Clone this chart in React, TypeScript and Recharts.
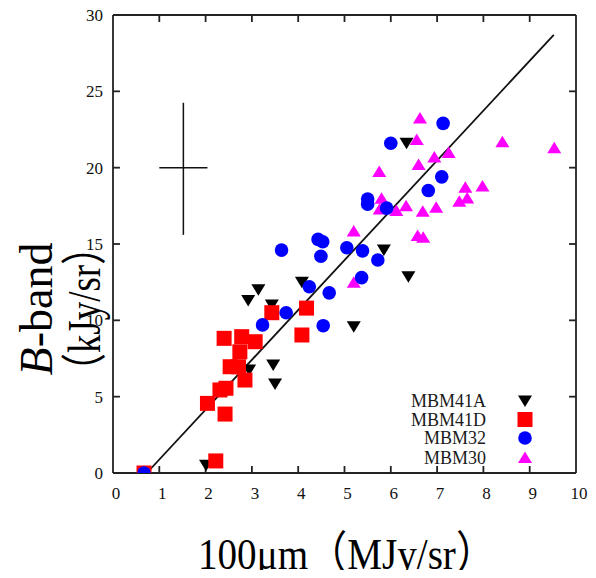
import React from 'react';
import { ScatterChart, Scatter, XAxis, YAxis, ReferenceLine } from 'recharts';

// ---- data (x: 100um MJy/sr, y: B-band kJy/sr) ----
const MBM41A: [number, number][] = [
  [2.01, 0.5], [2.92, 11.3], [3.14, 12.0], [2.94, 6.75], [3.43, 11.0], [3.46, 7.07],
  [3.5, 5.83], [4.08, 12.5], [5.2, 9.58], [5.85, 14.6], [6.38, 12.86], [6.34, 21.6],
];
const MBM41D: [number, number][] = [
  [0.67, 0], [2.22, 0.79], [2.04, 4.56], [2.42, 3.86], [2.31, 5.44], [2.44, 5.55],
  [2.4, 8.82], [2.78, 8.93], [3.07, 8.6], [2.74, 7.94], [2.53, 6.96], [2.71, 6.96],
  [2.85, 6.09], [3.43, 10.5], [4.18, 10.8], [4.08, 9.04],
];
const MBM32: [number, number][] = [
  [0.67, 0], [3.23, 9.7], [3.74, 10.5], [4.24, 12.2], [4.67, 11.8], [4.54, 9.65],
  [3.64, 14.6], [4.43, 15.3], [4.53, 15.15], [4.49, 14.2], [5.05, 14.75], [5.39, 14.55],
  [5.72, 13.95], [5.37, 12.8], [5.5, 17.95], [5.5, 17.6], [5.91, 17.35], [6.0, 21.6],
  [7.13, 22.9], [7.1, 19.4], [6.81, 18.5],
];
const MBM30: [number, number][] = [
  [0.67, 0], [5.2, 12.5], [5.2, 15.85], [6.63, 23.25], [6.56, 21.85], [8.41, 21.7],
  [9.53, 21.3], [7.25, 21.0], [6.94, 20.7], [6.6, 20.2], [5.75, 19.75], [7.61, 18.72],
  [7.98, 18.8], [7.48, 17.8], [7.65, 18.02], [5.8, 18.0], [5.76, 17.3], [6.12, 17.2],
  [6.33, 17.5], [6.69, 17.15], [6.98, 17.4], [6.58, 15.55], [6.7, 15.45],
];
const xTicks = [0, 1, 2, 3, 4, 5, 6, 7, 8, 9, 10];
const yTicks = [0, 5, 10, 15, 20, 25, 30];
const xDomain: [number, number] = [0, 10];
const yDomain: [number, number] = [0, 30];
const fitLine: [number, number][] = [[0.73, 0], [9.52, 28.7]];
const errCenter: [number, number] = [1.52, 20];
const errX = 0.52;
const errY: [number, number] = [15.6, 24.25];
const legendNames = ['MBM41A', 'MBM41D', 'MBM32', 'MBM30'];

const toPts = (a: [number, number][]) => a.map(([x, y]) => ({ x, y }));

const INK = '#111';
const FRAME = '#222';
const SERIF = 'Liberation Serif, DejaVu Serif, Noto Sans CJK JP, serif';

// chart layout
const W = 580;
const H = 562;
const M = { top: 7, right: 12, bottom: 57, left: 45 };
const Y_AXIS_W = 60;
const X_AXIS_H = 40;
// inward tick length expressed in data units (~7px)
const X_TICK_LEN = 0.15;
const Y_TICK_LEN = 0.46;

const TriDown = (p: any) => (
  <polygon points={`${p.cx - 7},${p.cy - 5.5} ${p.cx + 7},${p.cy - 5.5} ${p.cx},${p.cy + 6}`} fill="#000" />
);
const Sq = (p: any) => <rect x={p.cx - 7.5} y={p.cy - 7.5} width={15} height={15} fill="#ff0000" />;
const Circ = (p: any) => <circle cx={p.cx} cy={p.cy} r={6.8} fill="#0000ff" />;
const TriUp = (p: any) => (
  <polygon points={`${p.cx - 7},${p.cy + 5.5} ${p.cx + 7},${p.cy + 5.5} ${p.cx},${p.cy - 6}`} fill="#ff00ff" />
);

const XTick = (p: any) => (
  <text x={p.x + 3} y={p.y + 26} textAnchor="middle" fontSize={17} fontFamily={SERIF} fill={INK}>
    {p.payload.value}
  </text>
);
const YTick = (p: any) => (
  <text x={p.x - 10} y={p.y + 6} textAnchor="end" fontSize={17} fontFamily={SERIF} fill={INK}>
    {p.payload.value}
  </text>
);

const legendShapes = [TriDown, Sq, Circ, TriUp];
const legendRows = [393, 411.5, 430, 449.5];

const frameProps = { stroke: FRAME, strokeWidth: 1.8, ifOverflow: 'visible' as const };

export default function App() {
  const innerX = xTicks.filter((v) => v > xDomain[0] && v < xDomain[1]);
  const innerY = yTicks.filter((v) => v > yDomain[0] && v < yDomain[1]);
  return (
    <div style={{ position: 'relative', width: W, height: H }}>
      <ScatterChart width={W} height={H} margin={M}>
        <XAxis
          dataKey="x" type="number" domain={xDomain} ticks={xTicks} allowDataOverflow
          height={X_AXIS_H} tickSize={0} tickMargin={0} tick={XTick}
          axisLine={false} tickLine={false} interval={0}
        />
        <YAxis
          dataKey="y" type="number" domain={yDomain} ticks={yTicks} allowDataOverflow
          width={Y_AXIS_W} tickSize={0} tickMargin={0} tick={YTick}
          axisLine={false} tickLine={false} interval={0}
        />
        <Scatter name="MBM41A" data={toPts(MBM41A)} shape={TriDown} isAnimationActive={false} />
        <Scatter name="MBM30" data={toPts(MBM30)} shape={TriUp} isAnimationActive={false} />
        <Scatter name="MBM41D" data={toPts(MBM41D)} shape={Sq} isAnimationActive={false} />
        <Scatter name="MBM32" data={toPts(MBM32)} shape={Circ} isAnimationActive={false} />
        {/* frame */}
        <ReferenceLine segment={[{ x: xDomain[0], y: yDomain[0] }, { x: xDomain[1], y: yDomain[0] }]} {...frameProps} />
        <ReferenceLine segment={[{ x: xDomain[0], y: yDomain[1] }, { x: xDomain[1], y: yDomain[1] }]} {...frameProps} />
        <ReferenceLine segment={[{ x: xDomain[0], y: yDomain[0] }, { x: xDomain[0], y: yDomain[1] }]} {...frameProps} />
        <ReferenceLine segment={[{ x: xDomain[1], y: yDomain[0] }, { x: xDomain[1], y: yDomain[1] }]} {...frameProps} />
        {/* inward ticks on all four sides */}
        {innerX.map((v) => (
          <ReferenceLine key={`xb${v}`} segment={[{ x: v, y: yDomain[0] }, { x: v, y: yDomain[0] + Y_TICK_LEN }]} {...frameProps} />
        ))}
        {innerX.map((v) => (
          <ReferenceLine key={`xt${v}`} segment={[{ x: v, y: yDomain[1] }, { x: v, y: yDomain[1] - Y_TICK_LEN }]} {...frameProps} />
        ))}
        {innerY.map((v) => (
          <ReferenceLine key={`yl${v}`} segment={[{ x: xDomain[0], y: v }, { x: xDomain[0] + X_TICK_LEN, y: v }]} {...frameProps} />
        ))}
        {innerY.map((v) => (
          <ReferenceLine key={`yr${v}`} segment={[{ x: xDomain[1], y: v }, { x: xDomain[1] - X_TICK_LEN, y: v }]} {...frameProps} />
        ))}
        <ReferenceLine
          segment={[{ x: fitLine[0][0], y: fitLine[0][1] }, { x: fitLine[1][0], y: fitLine[1][1] }]}
          stroke="#111" strokeWidth={1.8} ifOverflow="visible"
        />
        <ReferenceLine
          segment={[{ x: errCenter[0] - errX, y: errCenter[1] }, { x: errCenter[0] + errX, y: errCenter[1] }]}
          stroke="#111" strokeWidth={1.5} ifOverflow="visible"
        />
        <ReferenceLine
          segment={[{ x: errCenter[0], y: errY[0] }, { x: errCenter[0], y: errY[1] }]}
          stroke="#111" strokeWidth={1.5} ifOverflow="visible"
        />
      </ScatterChart>
      <svg
        width={W} height={H}
        style={{ position: 'absolute', left: 0, top: 0, overflow: 'visible', pointerEvents: 'none' }}
      >
        <text
          x={338.5} y={561} textAnchor="middle" fontSize={45} fontFamily={SERIF} fill="#000"
          textLength={297} lengthAdjust="spacingAndGlyphs"
        >
          100μm（MJy/sr）
        </text>
        <text transform="translate(44,301) rotate(-90)" textAnchor="middle" fontSize={46} fontFamily={SERIF} fill="#000">
          <tspan fontStyle="italic">B</tspan>-band
        </text>
        <text
          transform="translate(92,301) rotate(-90)" textAnchor="middle" fontSize={46} fontFamily={SERIF} fill="#000"
          textLength={162} lengthAdjust="spacingAndGlyphs"
        >
          （kJy/sr）
        </text>
        {legendNames.map((n, i) => {
          const S = legendShapes[i];
          return (
            <g key={n}>
              <text x={478} y={legendRows[i] + 6} textAnchor="end" fontSize={18} fontFamily={SERIF} fill="#1a1a1a">
                {n}
              </text>
              <S cx={517} cy={legendRows[i]} />
            </g>
          );
        })}
      </svg>
    </div>
  );
}
